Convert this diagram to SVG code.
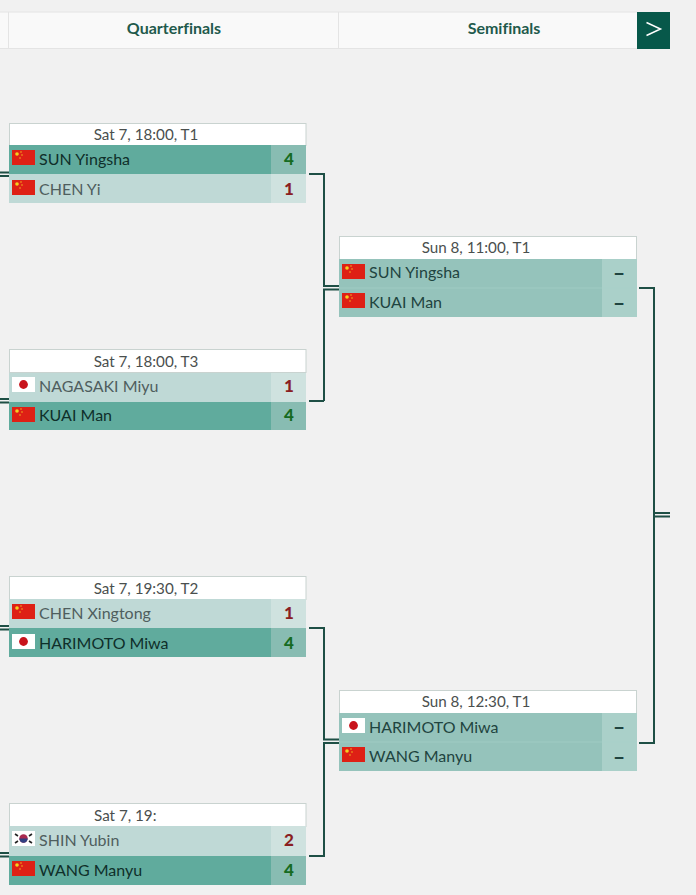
<svg xmlns="http://www.w3.org/2000/svg" width="696" height="895" viewBox="0 0 696 895">
<style>
text{font-family:"Lato","Liberation Sans",sans-serif;font-variant-ligatures:none}
.hd{font-size:16px;font-weight:700;fill:#1f5a4c;text-anchor:middle}
.t{font-size:15.2px;fill:#4a4f4e;text-anchor:middle}
.n{font-size:16px}
.w{fill:#0f2f2a}.l{fill:#4f5e5e}.p{fill:#1f4440}
.s{font-size:17px;font-weight:900;text-anchor:middle}
.sw{fill:#166b22}.sl{fill:#8a1f22}.sp{fill:#1f4440}
.d{font-size:21px}
.box{fill:#fff;stroke:#c9d3d0;stroke-width:1}
.rw{fill:#60ab9d}.rws{fill:#88bcb2}
.rl{fill:#bfd9d6}.rls{fill:#cfe2df}
.rp{fill:#95c3bb}.rps{fill:#aad0c9}
.cn{fill:none;stroke:#1e4f45;stroke-width:2}
</style>
<defs>
<g id="cn"><rect width="23" height="15" fill="#de2015"/><circle cx="5" cy="4" r="1.8" fill="#f5d020"/><circle cx="9" cy="2" r=".7" fill="#f5d020"/><circle cx="10" cy="5" r=".7" fill="#f5d020"/><circle cx="8" cy="8" r=".7" fill="#f5d020"/></g>
<g id="jp"><rect width="23" height="15" fill="#fff"/><circle cx="11.5" cy="7.5" r="4.4" fill="#c8141c"/></g>
<g id="kr"><rect width="23" height="15" fill="#fff"/><circle cx="11.5" cy="7.5" r="4.2" fill="#a82a50"/><path d="M7.3 7.5a4.2 4.2 0 0 0 8.4 0z" fill="#2f3f80"/><path d="M3 3l3 2M3 12l3-2M20 3l-3 2M20 12l-3-2" stroke="#222" stroke-width="1.6"/></g>
</defs>
<rect width="696" height="895" fill="#f1f1f1"/>
<g id="header">
<rect x="0" y="12" width="637" height="36.500" fill="#f9f9f9"/>
<path d="M0 12h637M0 48.500h637M8.500 12v37M338.500 12v37" fill="none" stroke="#e4e4e4"/>
<text class="hd" x="174" y="34">Quarterfinals</text>
<text class="hd" x="504" y="34">Semifinals</text>
<rect x="637" y="12" width="33" height="37" fill="#07584a"/>
<path d="M646.500 22.500L660.500 29L646.500 35.500" fill="none" stroke="#fff" stroke-width="1.500"/>
</g>
<g id="connectors">
<path class="cn" d="M309 174H324V286H339M324 401H309M324 401V289.500H339"/>
<path class="cn" d="M309 628H324V739.500H339M309 856H324V743H339"/>
<path class="cn" d="M639 288H654V743H639M654 513H670M654 516.500H670"/>
<path class="cn" d="M0 172.500H9M0 176H9M0 399H9M0 402.500H9M0 626H9M0 629.500H9M0 853H9M0 856.500H9" stroke-width="1.500"/>
</g>
<g id="m1"><rect class="box" x="9.500" y="123.500" width="296.500" height="22"/>
<text class="t" x="146" y="140">Sat 7, 18:00, T1</text>
<rect class="rw" x="9" y="145" width="262" height="29"/><rect class="rws" x="271" y="145" width="35" height="29"/>
<rect class="rl" x="9" y="174" width="262" height="29"/><rect class="rls" x="271" y="174" width="35" height="29"/>
<use href="#cn" x="12" y="150"/><use href="#cn" x="12" y="180"/>
<text class="n w" x="39" y="165">SUN Yingsha</text><text class="n l" x="39" y="195">CHEN Yi</text>
<text class="s sw" x="289" y="165">4</text><text class="s sl" x="289" y="195">1</text></g>
<g id="m2"><rect class="box" x="9.500" y="349.500" width="296.500" height="23"/>
<text class="t" x="146" y="367">Sat 7, 18:00, T3</text>
<rect class="rl" x="9" y="373" width="262" height="29"/><rect class="rls" x="271" y="373" width="35" height="29"/>
<rect class="rw" x="9" y="402" width="262" height="28"/><rect class="rws" x="271" y="402" width="35" height="28"/>
<use href="#jp" x="12" y="377"/><use href="#cn" x="12" y="407"/>
<text class="n l" x="39" y="392">NAGASAKI Miyu</text><text class="n w" x="39" y="421">KUAI Man</text>
<text class="s sl" x="289" y="392">1</text><text class="s sw" x="289" y="421">4</text></g>
<g id="m3"><rect class="box" x="9.500" y="576.500" width="296.500" height="23"/>
<text class="t" x="146" y="594">Sat 7, 19:30, T2</text>
<rect class="rl" x="9" y="599" width="262" height="29"/><rect class="rls" x="271" y="599" width="35" height="29"/>
<rect class="rw" x="9" y="628" width="262" height="29"/><rect class="rws" x="271" y="628" width="35" height="29"/>
<use href="#cn" x="12" y="604"/><use href="#jp" x="12" y="634"/>
<text class="n l" x="39" y="619">CHEN Xingtong</text><text class="n w" x="39" y="649">HARIMOTO Miwa</text>
<text class="s sl" x="289" y="619">1</text><text class="s sw" x="289" y="649">4</text></g>
<g id="m4"><rect class="box" x="9.500" y="803.500" width="296.500" height="23"/>
<text class="t" x="94" y="821" style="text-anchor:start">Sat 7, 19:</text>
<rect class="rl" x="9" y="826" width="262" height="30"/><rect class="rls" x="271" y="826" width="35" height="30"/>
<rect class="rw" x="9" y="856" width="262" height="29"/><rect class="rws" x="271" y="856" width="35" height="29"/>
<use href="#kr" x="12" y="831"/><use href="#cn" x="12" y="861"/>
<text class="n l" x="39" y="846">SHIN Yubin</text><text class="n w" x="39" y="876">WANG Manyu</text>
<text class="s sl" x="289" y="846">2</text><text class="s sw" x="289" y="876">4</text></g>
<g id="s1"><rect class="box" x="339.500" y="236.500" width="297" height="23"/>
<text class="t" x="476" y="253">Sun 8, 11:00, T1</text>
<rect class="rp" x="339" y="259" width="263" height="29"/><rect class="rps" x="602" y="259" width="35" height="29"/>
<rect class="rp" x="339" y="288" width="263" height="29"/><rect class="rps" x="602" y="288" width="35" height="29"/>
<path d="M339 288h298" stroke="#aad0c9" stroke-width=".6"/>
<use href="#cn" x="342" y="264"/><use href="#cn" x="342" y="293"/>
<text class="n p" x="369" y="278">SUN Yingsha</text><text class="n p" x="369" y="308">KUAI Man</text>
<text class="s sp d" x="619" y="280">–</text><text class="s sp d" x="619" y="310">–</text></g>
<g id="s2"><rect class="box" x="339.500" y="690.500" width="297" height="23"/>
<text class="t" x="476" y="707">Sun 8, 12:30, T1</text>
<rect class="rp" x="339" y="713" width="263" height="29"/><rect class="rps" x="602" y="713" width="35" height="29"/>
<rect class="rp" x="339" y="742" width="263" height="29"/><rect class="rps" x="602" y="742" width="35" height="29"/>
<path d="M339 742h298" stroke="#aad0c9" stroke-width=".6"/>
<use href="#jp" x="342" y="718"/><use href="#cn" x="342" y="747"/>
<text class="n p" x="369" y="733">HARIMOTO Miwa</text><text class="n p" x="369" y="762">WANG Manyu</text>
<text class="s sp d" x="619" y="734">–</text><text class="s sp d" x="619" y="764">–</text></g>
</svg>
